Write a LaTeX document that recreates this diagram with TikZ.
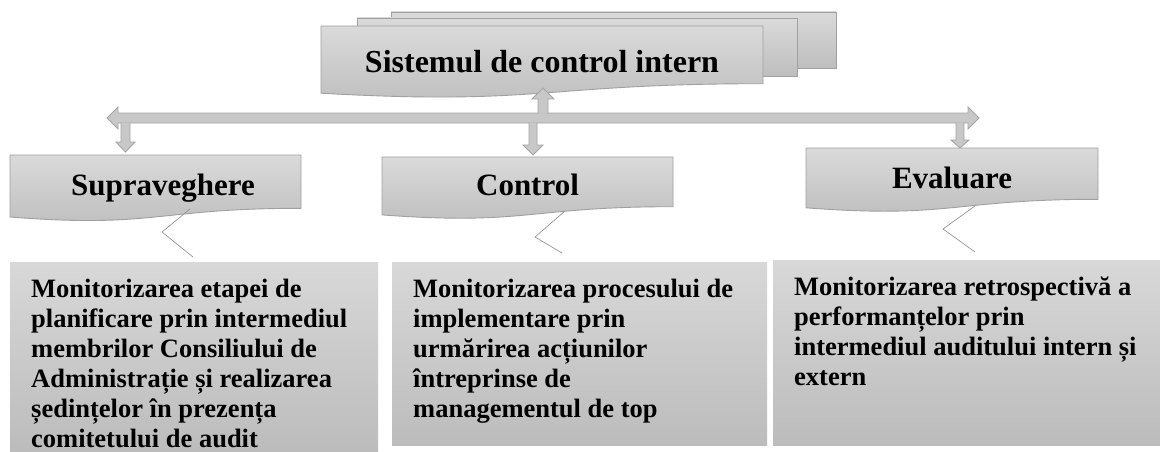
\documentclass[tikz,border=0pt]{standalone}
\usepackage{fontspec}
\setmainfont{Liberation Serif}
\begin{document}
\begin{tikzpicture}[x=1pt,y=-1pt,
  docbox/.style={top color=docTop, bottom color=docBot, draw=docLine, line width=0.9pt},
  descbox/.style={top color=descTop, bottom color=descBot, draw=none},
  blockarrow/.style={fill=arrFill, draw=arrLine, line width=0.9pt, line join=miter},
  callline/.style={draw=callLine, line width=0.7pt},
  headtext/.style={font=\bfseries\fontsize{31}{34}\selectfont, anchor=base, inner sep=0pt},
  desctext/.style={anchor=base west, inner sep=0pt}
]
\definecolor{docTop}{RGB}{218,218,218}
\definecolor{docBot}{RGB}{190,190,190}
\definecolor{docLine}{RGB}{160,160,160}
\definecolor{descTop}{RGB}{216,216,216}
\definecolor{descBot}{RGB}{188,188,188}
\definecolor{arrFill}{RGB}{200,200,200}
\definecolor{arrLine}{RGB}{165,165,165}
\definecolor{callLine}{RGB}{150,150,150}
\useasboundingbox[fill=white] (0,0) rectangle (1160,452);

% --- top multidocument ---
\shadedraw[docbox] (391,12) rectangle (836,68);
\shadedraw[docbox] (357,18) rectangle (797,76);
\shadedraw[docbox] (321,26) -- (763,26) -- (763,83.7)
  .. controls (542,83.7) and (542,105.7) .. (321,93.2) -- cycle;
\node[headtext, font=\bfseries\fontsize{32}{35}\selectfont] (sys) at (542,72.5) {Sistemul de control intern};

% --- section boxes ---
\shadedraw[docbox] (10,155) -- (301,155) -- (301,208.3)
  .. controls (155.5,208.3) and (155.5,228.5) .. (10,217) -- cycle;
\node[headtext] (sup) at (163,195) {Supraveghere};

\shadedraw[docbox] (382,157) -- (673,157) -- (673,206.7)
  .. controls (527.5,206.7) and (527.5,225.7) .. (382,214.9) -- cycle;
\node[headtext] (ctl) at (527.5,195) {Control};

\shadedraw[docbox] (806,148) -- (1098,148) -- (1098,199.3)
  .. controls (952,199.3) and (952,218.9) .. (806,207.8) -- cycle;
\node[headtext] (eva) at (952,188) {Evaluare};

% --- block arrows ---
\filldraw[blockarrow] (107,118) -- (118,107) -- (118,113) -- (968,113) -- (968,107)
  -- (979,118) -- (968,129) -- (968,123) -- (118,123) -- (118,129) -- cycle;
\filldraw[blockarrow] (538,113.5) -- (538,99) -- (532,99) -- (543,88) -- (554,99) -- (548,99) -- (548,113.5);
\filldraw[blockarrow] (121,122.5) -- (121,142) -- (116,142) -- (125.5,152) -- (135,142) -- (130,142) -- (130,122.5);
\filldraw[blockarrow] (529,122.5) -- (529,145) -- (523,145) -- (533,155) -- (543,145) -- (537,145) -- (537,122.5);
\filldraw[blockarrow] (956,122.5) -- (956,140) -- (951,140) -- (960,148) -- (969,140) -- (964,140) -- (964,122.5);

% --- callout chevrons ---
\draw[callline] (190,209) -- (162,232) -- (193,257);
\draw[callline] (565,211) -- (535,237) -- (562,253);
\draw[callline] (975,206) -- (943,229) -- (975,252);

% --- description boxes ---
\shade[descbox] (10,262) rectangle (378,452);
\shade[descbox] (392,262) rectangle (767,445);
\shade[descbox] (773,260) rectangle (1160,445);

\node[desctext] (d1) at (31,297) {\parbox[t]{360pt}{\raggedright\bfseries\fontsize{26.5}{30}\selectfont
Monitorizarea etapei de\\
planificare prin intermediul\\
membrilor Consiliului de\\
Administrație și realizarea\\
ședințelor în prezența\\
comitetului de audit}};
\node[desctext] (d2) at (413,297) {\parbox[t]{360pt}{\raggedright\bfseries\fontsize{26.5}{30}\selectfont
Monitorizarea procesului de\\
implementare prin\\
urmărirea acțiunilor\\
întreprinse de\\
managementul de top}};
\node[desctext] (d3) at (794,295) {\parbox[t]{370pt}{\raggedright\bfseries\fontsize{26.5}{30}\selectfont
Monitorizarea retrospectivă a\\
performanțelor prin\\
intermediul auditului intern și\\
extern}};
\end{tikzpicture}
\end{document}
